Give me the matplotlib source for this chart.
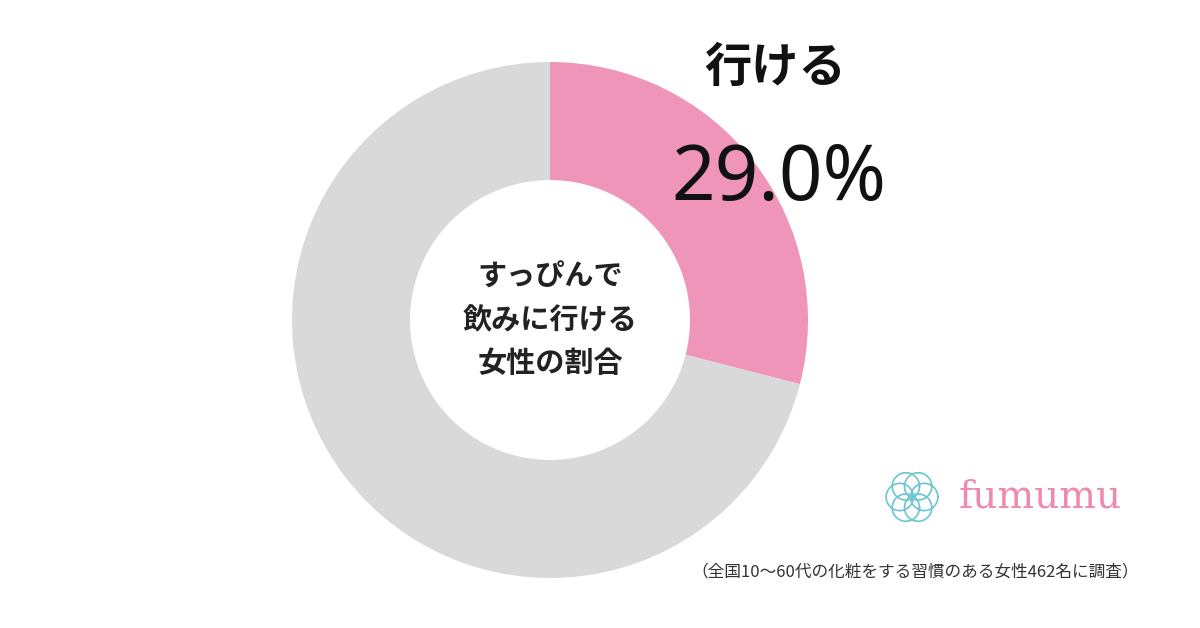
import matplotlib
matplotlib.use('Agg')
import matplotlib.pyplot as plt
import numpy as np

plt.rcParams['font.family'] = ['Noto Sans CJK JP', 'DejaVu Sans']

labels = ['行ける', '行けない']
values = [29.0, 71.0]
colors = ['#F095BA', '#D9D9D9']

fig = plt.figure(figsize=(12, 6.28), dpi=100)
ax = fig.add_axes([550/1200 - 258/1200, 1 - (320 + 258)/628, 516/1200, 516/628])
ax.pie(values, colors=colors, startangle=90, counterclock=False,
       wedgeprops=dict(width=118/258, edgecolor='none'))
ax.set_xlim(-1, 1)
ax.set_ylim(-1, 1)
ax.set_aspect('equal')

ax.text(0, 0, 'すっぴんで\n飲みに行ける\n女性の割合', ha='center', va='center',
        fontsize=21, fontweight='bold', linespacing=1.55, color='#222222')

fig.text(775/1200, 1 - 68/628, labels[0], ha='center', va='center',
         fontsize=34, fontweight='bold', color='#111111')
fig.text(779/1200, 1 - 180/628, '%.1f%%' % values[0], ha='center', va='center',
         fontsize=55, fontweight='light', color='#111111', family=['Noto Sans'])

# logo
lx, ly = 912/1200, 1 - 497/628
lax = fig.add_axes([lx - 30/1200, ly - 30/628, 60/1200, 60/628])
th = np.linspace(0, 2*np.pi, 200)
for k in range(6):
    a = k * np.pi / 3
    lax.plot(0.45*np.cos(a) + 0.5*np.cos(th), 0.45*np.sin(a) + 0.5*np.sin(th),
             color='#6CC5CF', lw=1.2)
lax.set_xlim(-1.1, 1.1)
lax.set_ylim(-1.1, 1.1)
lax.set_aspect('equal')
lax.axis('off')
fig.text(1040/1200, 1 - 497/628, 'fumumu', ha='center', va='center',
         fontsize=28, color='#EE8AB0', family=['DejaVu Serif'])

fig.text(915/1200, 1 - 572/628, '（全国10〜60代の化粧をする習慣のある女性462名に調査）',
         ha='center', va='center', fontsize=12, color='#333333')

fig.savefig('out.png', dpi=100, facecolor='white')
